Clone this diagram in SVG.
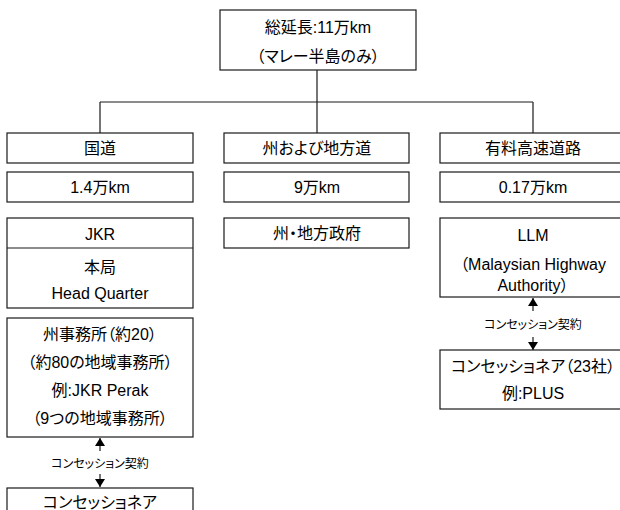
<svg xmlns="http://www.w3.org/2000/svg" width="620" height="510" viewBox="0 0 620 510">
<defs>
<style>
.box{fill:#fff;stroke:#1a1a1a;stroke-width:1.2}
.t{font-family:"Liberation Sans","Noto Sans CJK JP",sans-serif;font-size:16px;fill:#000;text-anchor:middle;dominant-baseline:central;font-feature-settings:"palt"}
.s{font-size:12px}
.ln{stroke:#1a1a1a;stroke-width:1.2;fill:none}
</style>
<marker id="ah" viewBox="0 0 8 10" refX="8" refY="5" markerWidth="8" markerHeight="10" markerUnits="userSpaceOnUse" orient="auto">
<path d="M0,0 L8,5 L0,10 Z" fill="#000"/>
</marker>
</defs>
<g id="connectors">
<line class="ln" x1="317" y1="70" x2="317" y2="102"/>
<line class="ln" x1="100" y1="102" x2="533" y2="102"/>
<line class="ln" x1="100" y1="102" x2="100" y2="133"/>
<line class="ln" x1="317" y1="102" x2="317" y2="133"/>
<line class="ln" x1="533" y1="102" x2="533" y2="133"/>
<line class="ln" x1="100" y1="451" x2="100" y2="438" marker-end="url(#ah)"/>
<line class="ln" x1="100" y1="474" x2="100" y2="487" marker-end="url(#ah)"/>
<text class="t s" x="100" y="464">コンセッション契約</text>
<line class="ln" x1="533" y1="311" x2="533" y2="298" marker-end="url(#ah)"/>
<line class="ln" x1="533" y1="337" x2="533" y2="350" marker-end="url(#ah)"/>
<text class="t s" x="533" y="325">コンセッション契約</text>
</g>
<g id="top">
<rect class="box" x="220" y="10" width="196" height="60"/>
<text class="t" x="318" y="27">総延長:11万km</text>
<text class="t" x="318" y="56">（マレー半島のみ）</text>
</g>
<g id="kokudo">
<rect class="box" x="7" y="133" width="186" height="30"/>
<text class="t" x="100" y="148">国道</text>
</g>
<g id="kokudo-len">
<rect class="box" x="7" y="172" width="186" height="30"/>
<text class="t" x="100" y="187">1.4万km</text>
</g>
<g id="jkr">
<rect class="box" x="7" y="218" width="186" height="90"/>
<line class="ln" x1="7" y1="248" x2="193" y2="248"/>
<text class="t" x="100" y="234">JKR</text>
<text class="t" x="100" y="267">本局</text>
<text class="t" x="100" y="293">Head Quarter</text>
</g>
<g id="state-office">
<rect class="box" x="7" y="318" width="186" height="119"/>
<text class="t" x="100" y="334">州事務所（約20）</text>
<text class="t" x="100" y="362">（約80の地域事務所）</text>
<text class="t" x="100" y="390">例:JKR Perak</text>
<text class="t" x="100" y="418">（9つの地域事務所）</text>
</g>
<g id="concessionaire-left">
<rect class="box" x="7" y="488" width="186" height="40"/>
<text class="t" x="100" y="502">コンセッショネア</text>
</g>
<g id="state-road">
<rect class="box" x="224" y="133" width="185" height="30"/>
<text class="t" x="317" y="148">州および地方道</text>
</g>
<g id="state-road-len">
<rect class="box" x="224" y="172" width="185" height="30"/>
<text class="t" x="317" y="187">9万km</text>
</g>
<g id="state-gov">
<rect class="box" x="224" y="218" width="185" height="30"/>
<text class="t" x="317" y="233">州・地方政府</text>
</g>
<g id="toll">
<rect class="box" x="440" y="133" width="186" height="30"/>
<text class="t" x="533" y="148">有料高速道路</text>
</g>
<g id="toll-len">
<rect class="box" x="440" y="172" width="186" height="30"/>
<text class="t" x="533" y="187">0.17万km</text>
</g>
<g id="llm">
<rect class="box" x="440" y="218" width="186" height="79"/>
<text class="t" x="533" y="235">LLM</text>
<text class="t" x="533" y="264">（Malaysian Highway</text>
<text class="t" x="533" y="285">Authority）</text>
</g>
<g id="concessionaire-right">
<rect class="box" x="440" y="350" width="186" height="59"/>
<text class="t" x="533" y="366">コンセッショネア（23社）</text>
<text class="t" x="533" y="393">例:PLUS</text>
</g>
</svg>
